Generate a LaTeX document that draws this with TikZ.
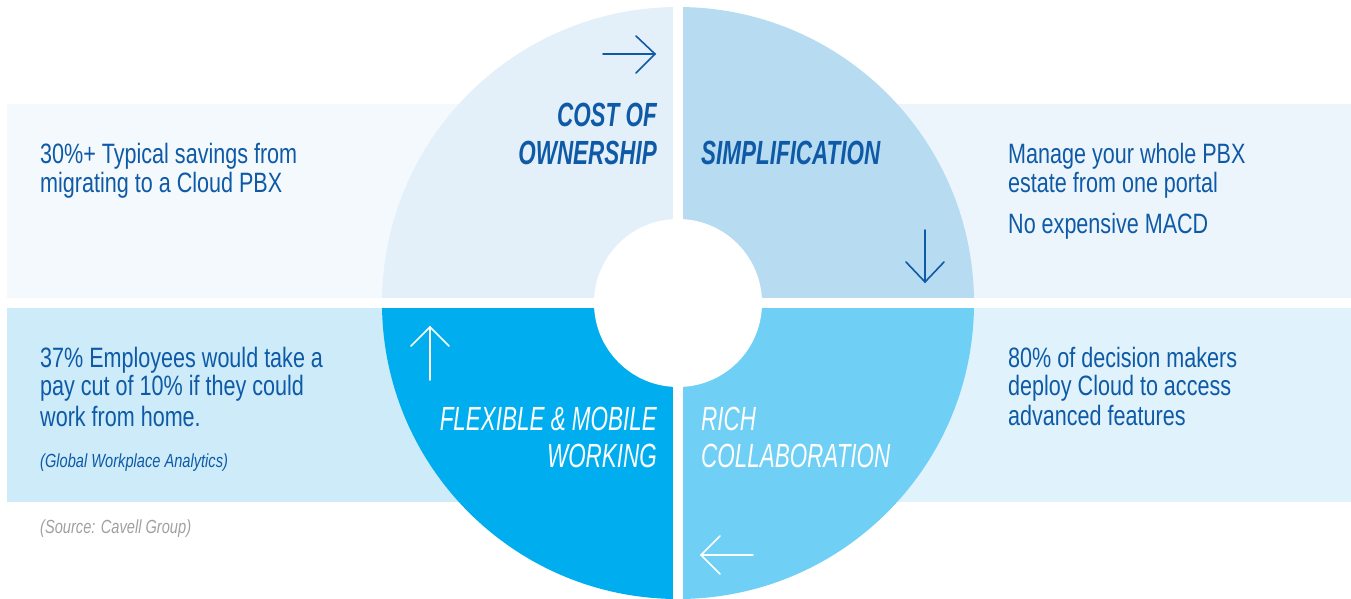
\documentclass[tikz,border=0pt]{standalone}
\usepackage{fontspec}
\setmainfont{Liberation Sans}[FakeStretch=0.77]
\newfontfamily\ttlfont{Liberation Sans}[FakeStretch=0.67]
\definecolor{qTL}{HTML}{E4F0F9}
\definecolor{qTR}{HTML}{B7DBF0}
\definecolor{qBL}{HTML}{00AEEF}
\definecolor{qBR}{HTML}{6FCFF5}
\definecolor{bTL}{HTML}{F4F9FD}
\definecolor{bTR}{HTML}{EDF5FC}
\definecolor{bBL}{HTML}{CDEBF8}
\definecolor{bBR}{HTML}{E0F2FB}
\definecolor{txtblue}{HTML}{0E5AA7}
\definecolor{srcgrey}{HTML}{A0A0A0}
\begin{document}
\begin{tikzpicture}[x=1pt,y=1pt,
  body/.style={anchor=base west,inner sep=0pt,text=txtblue,font=\fontsize{28}{30}\selectfont},
  note/.style={anchor=base west,inner sep=0pt,text=txtblue,font=\fontsize{19}{21}\selectfont\itshape},
  src/.style={anchor=base west,inner sep=0pt,text=srcgrey,font=\fontsize{19}{21}\selectfont\itshape},
  ttlL/.style={anchor=base east,inner sep=0pt,font=\ttlfont\fontsize{33.5}{36}\selectfont\itshape},
  ttlR/.style={anchor=base west,inner sep=0pt,font=\ttlfont\fontsize{33.5}{36}\selectfont\itshape},
  arr/.style={line width=1.6pt,line cap=round,line join=miter}]
\useasboundingbox (0,0) rectangle (1351,-599);
% background bands
\fill[bTL] (7,-104) rectangle (678,-298);
\fill[bTR] (678,-104) rectangle (1351,-298);
\fill[bBL] (7,-308) rectangle (678,-502);
\fill[bBR] (678,-308) rectangle (1351,-502);
% quadrants
\coordinate (c) at (678,-303);
\fill[qTL] (c) -- (382,-303) arc[start angle=180,end angle=90,radius=296] -- cycle;
\fill[qTR] (c) -- (678,-7) arc[start angle=90,end angle=0,radius=296] -- cycle;
\fill[qBR] (c) -- (974,-303) arc[start angle=0,end angle=-90,radius=296] -- cycle;
\fill[qBL] (c) -- (678,-599) arc[start angle=270,end angle=180,radius=296] -- cycle;
% gaps and hole
\fill[white] (673,0) rectangle (683,-599);
\fill[white] (380,-298) rectangle (976,-308);
\fill[white] (c) circle[radius=84];
% arrows
\draw[arr,txtblue] (603,-54) -- (655,-54);
\draw[arr,txtblue] (636,-36) -- (655,-54) -- (636,-73);
\draw[arr,txtblue] (925,-230) -- (925,-282);
\draw[arr,txtblue] (906,-262) -- (925,-282) -- (944,-262);
\draw[arr,white] (430,-380) -- (430,-327);
\draw[arr,white] (411,-346) -- (430,-327) -- (449,-346);
\draw[arr,white] (753,-555) -- (701,-555);
\draw[arr,white] (720,-536) -- (701,-555) -- (720,-574);
% titles
\node[ttlL,text=txtblue,font=\ttlfont\fontsize{33.5}{36}\selectfont\bfseries\itshape] (t1a) at (657,-127) {COST OF};
\node[ttlL,text=txtblue,font=\ttlfont\fontsize{33.5}{36}\selectfont\bfseries\itshape] (t1b) at (657,-164) {OWNERSHIP};
\node[ttlR,text=txtblue,font=\ttlfont\fontsize{33.5}{36}\selectfont\bfseries\itshape] (t2) at (701,-164) {SIMPLIFICATION};
\node[ttlL,text=white] (t3a) at (657,-430) {FLEXIBLE \& MOBILE};
\node[ttlL,text=white] (t3b) at (657,-467) {WORKING};
\node[ttlR,text=white] (t4a) at (701,-430) {RICH};
\node[ttlR,text=white] (t4b) at (701,-467) {COLLABORATION};
% left texts
\node[body] (l1a) at (40,-163) {30\%+ Typical savings from};
\node[body] (l1b) at (40,-192) {migrating to a Cloud PBX};
\node[body] (l2a) at (40,-367) {37\% Employees would take a};
\node[body] (l2b) at (40,-395) {pay cut of 10\% if they could};
\node[body] (l2c) at (40,-426) {work from home.};
\node[note] (l2d) at (40,-467) {(Global Workplace Analytics)};
\node[src] (s1) at (40,-533) {(Source: Cavell Group)};
% right texts
\node[body] (r1a) at (1008,-163) {Manage your whole PBX};
\node[body] (r1b) at (1008,-192) {estate from one portal};
\node[body] (r1c) at (1008,-233) {No expensive MACD};
\node[body] (r2a) at (1008,-367) {80\% of decision makers};
\node[body] (r2b) at (1008,-395) {deploy Cloud to access};
\node[body] (r2c) at (1008,-425) {advanced features};
\end{tikzpicture}
\end{document}
